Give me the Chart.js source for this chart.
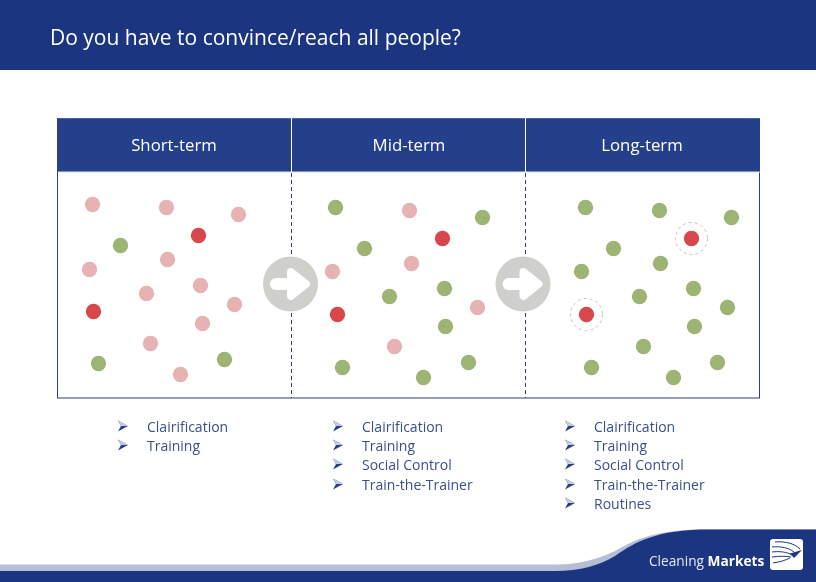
<!DOCTYPE html>
<html>
<head>
<meta charset="utf-8">
<title>Do you have to convince/reach all people?</title>
<script src="https://cdn.jsdelivr.net/npm/chart.js@4"></script>
<style>
  html, body { margin: 0; padding: 0; background: #fff; }
  #slide { position: relative; width: 816px; height: 582px; overflow: hidden; font-family: 'Open Sans', sans-serif; }
  #slide svg, #slide canvas { position: absolute; left: 0; top: 0; }
  .t { position: absolute; white-space: nowrap; }
  .title { left: 50px; top: 23px; font-size: 21px; line-height: 28px; color: #fff; }
  .head { top: 132px; width: 234px; text-align: center; font-size: 16.8px; line-height: 26px; color: #fff; }
  .item { font-size: 14px; line-height: 18px; color: #3c4f8c; }
  .brand { left: 649px; top: 551px; font-size: 13.7px; line-height: 20px; color: #e4e8f2; }
  .brand b { color: #fff; font-weight: 700; }
</style>
</head>
<body>
<div id="slide">
  <svg width="816" height="582" viewBox="0 0 816 582">
    <rect x="0" y="0" width="816" height="70" fill="#1b3581"/>
    <!-- panel -->
    <rect x="57.5" y="118.5" width="702" height="279.5" fill="#fff" stroke="#2c3f78" stroke-width="1"/>
    <rect x="58" y="118" width="702" height="54" fill="#25408a"/>
    <line x1="58" x2="760" y1="118.5" y2="118.5" stroke="#4a64a3"/>
    <line x1="58" x2="760" y1="172" y2="172" stroke="#dfe4ef"/>
    <line x1="291.5" x2="291.5" y1="118" y2="172" stroke="#fff"/>
    <line x1="525.5" x2="525.5" y1="118" y2="172" stroke="#fff"/>
    <line x1="291.5" x2="291.5" y1="173" y2="398" stroke="#2c3f78" stroke-dasharray="4 3"/>
    <line x1="525.5" x2="525.5" y1="173" y2="398" stroke="#2c3f78" stroke-dasharray="4 3"/>
    <!-- arrows -->
    <g>
      <circle cx="290.5" cy="284" r="27.5" fill="#cfcfcb"/>
      <path d="M276 284H296" stroke="#fff" stroke-width="12" stroke-linecap="round"/>
      <path d="M291 272L306 284L291 296Z" fill="#fff" stroke="#fff" stroke-width="8" stroke-linejoin="round"/>
    </g>
    <g transform="translate(232.5 0)">
      <circle cx="290.5" cy="284" r="27.5" fill="#cfcfcb"/>
      <path d="M276 284H296" stroke="#fff" stroke-width="12" stroke-linecap="round"/>
      <path d="M291 272L306 284L291 296Z" fill="#fff" stroke="#fff" stroke-width="8" stroke-linejoin="round"/>
    </g>
    <!-- bullets -->
    <defs>
      <g id="bul">
        <path d="M0 -5.500L10 0L0 5.500L3 0Z" fill="#2a3f88"/>
        <path d="M0 -5.500L10 0L3 0Z" fill="#c5cde0"/>
      </g>
    </defs>
    <use href="#bul" x="118" y="426"/><use href="#bul" x="118" y="445"/>
    <use href="#bul" x="333" y="426"/><use href="#bul" x="333" y="445"/><use href="#bul" x="333" y="464"/><use href="#bul" x="333" y="484"/>
    <use href="#bul" x="565" y="426"/><use href="#bul" x="565" y="445"/><use href="#bul" x="565" y="464"/><use href="#bul" x="565" y="484"/><use href="#bul" x="565" y="503"/>
    <!-- footer -->
    <path d="M0 564.500H555C580 565 600 558 615 551C630 543 650 530 700 529.500H816V582H0Z" fill="#b4bfd6"/>
    <path d="M0 571H555C580 571 600 565 615 556C630 546 650 531 700 529.500H816V582H0Z" fill="#1b3581"/>
    <!-- logo -->
    <rect x="770" y="539" width="33" height="31" rx="3" fill="#fff"/>
    <path d="M775 542C786 541 795 544 800 549M772 547C781 546 789 548 794 552M772 552C780 551 787 552 792 555M772 557C780 556 786 556 791 557M773 563C780 562 786 560 790 558" fill="none" stroke="#1b3581" stroke-width="1"/>
    <path d="M802 550L790 553.500L794 558Z" fill="#1b3581"/>
  </svg>
  <canvas id="dots" width="816" height="582"></canvas>

  <div class="t title">Do you have to convince/reach all people?</div>
  <div class="t head" style="left:57px">Short-term</div>
  <div class="t head" style="left:292px">Mid-term</div>
  <div class="t head" style="left:525px">Long-term</div>
  <div id="lists"></div>
  <div class="t brand">Cleaning <b>Markets</b></div>
</div>

<script>
// dot positions, [x, y] in slide pixels
const shortPale = [[92,204],[166,207],[238,214],[89,269],[167,259],[146,293],[200,285],[234,304],[202,323],[150,343],[180,374]];
const shortGreen = [[120,245],[98,363],[224,359]];
const shortRed = [[198,235],[93,311]];
const midPale = [[409,210],[332,271],[411,263],[477,307],[394,346]];
const midGreen = [[335,207],[482,217],[364,248],[389,296],[444,288],[445,326],[342,367],[423,377],[468,362]];
const midRed = [[442,238],[337,314]];
const longGreen = [[585,207],[659,210],[731,217],[613,248],[581,271],[660,263],[639,296],[693,288],[727,307],[694,326],[643,346],[591,367],[673,377],[717,362]];
const longRed = [[691,238],[586,314]];

const shortList = ['Clairification', 'Training'];
const midList = ['Clairification', 'Training', 'Social Control', 'Train-the-Trainer'];
const longList = ['Clairification', 'Training', 'Social Control', 'Train-the-Trainer', 'Routines'];

const PALE = '#e6b2b3';
const GREEN = '#9db475';
const RED = '#d8474c';

function toPoints(list) {
  return list.map(p => ({ x: p[0], y: p[1] }));
}

// Fill the bullet lists under the panel
function addList(items, left) {
  const rowTops = [418, 437, 456, 476, 495];
  const box = document.getElementById('lists');
  items.forEach((text, i) => {
    const el = document.createElement('div');
    el.className = 't item';
    el.style.left = left + 'px';
    el.style.top = rowTops[i] + 'px';
    el.textContent = text;
    box.appendChild(el);
  });
}
addList(shortList, 147);
addList(midList, 362);
addList(longList, 594);

// Rings around the remaining red dots are dashed, points have no dash option
const dashRings = {
  id: 'dashRings',
  beforeDatasetDraw(chart, args) {
    if (chart.data.datasets[args.index].label === 'ring') chart.ctx.setLineDash([3, 3]);
  },
  afterDatasetDraw(chart) {
    chart.ctx.setLineDash([]);
  }
};

function dotSet(label, list, color) {
  return {
    label: label,
    data: toPoints(list),
    backgroundColor: color,
    borderColor: color,
    borderWidth: 0,
    pointRadius: 7.7,
    pointHoverRadius: 7.7
  };
}

new Chart(document.getElementById('dots').getContext('2d'), {
  type: 'scatter',
  data: {
    datasets: [
      {
        label: 'ring',
        data: toPoints(longRed),
        backgroundColor: 'transparent',
        borderColor: '#c9bcc4',
        borderWidth: 1,
        pointRadius: 16
      },
      dotSet('Short pale', shortPale, PALE),
      dotSet('Short green', shortGreen, GREEN),
      dotSet('Short red', shortRed, RED),
      dotSet('Mid pale', midPale, PALE),
      dotSet('Mid green', midGreen, GREEN),
      dotSet('Mid red', midRed, RED),
      dotSet('Long green', longGreen, GREEN),
      dotSet('Long red', longRed, RED)
    ]
  },
  plugins: [dashRings],
  options: {
    responsive: false,
    animation: false,
    layout: { padding: 0, autoPadding: false },
    scales: {
      x: { type: 'linear', min: -0.5, max: 815.5, display: false },
      y: { type: 'linear', min: -0.5, max: 581.5, reverse: true, display: false }
    },
    plugins: {
      legend: { display: false },
      tooltip: { enabled: false }
    }
  }
});
</script>
</body>
</html>
